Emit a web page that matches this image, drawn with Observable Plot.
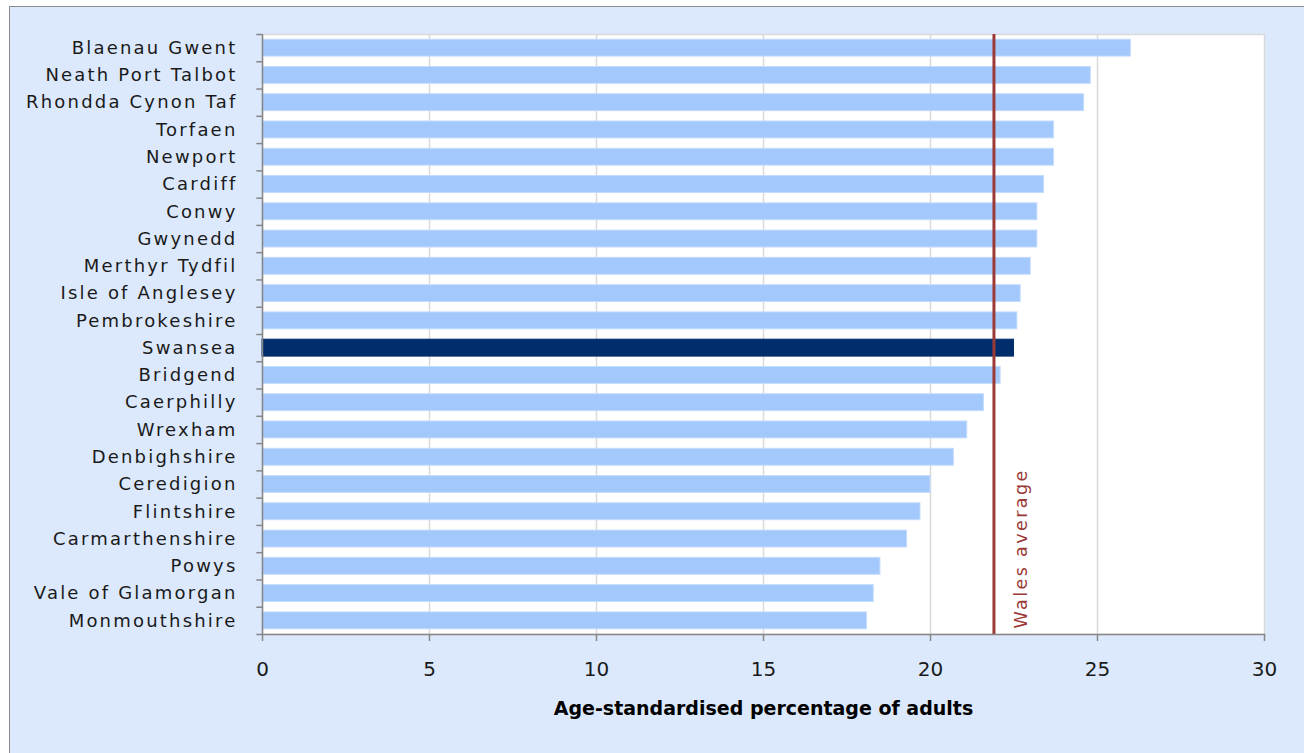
<!DOCTYPE html>
<html><head><meta charset="utf-8">
<script src="https://cdn.jsdelivr.net/npm/d3@7"></script>
<script src="https://cdn.jsdelivr.net/npm/@observablehq/plot@0.6"></script>
<style>
html,body{margin:0;padding:0;background:#fff;width:1304px;height:753px;overflow:hidden;}
#frame{position:absolute;left:9px;top:6px;width:1400px;height:800px;background:#dce9fc;border:1px solid #8c8c8c;}
#chart{position:absolute;left:0;top:0;}
</style></head>
<body><div id="frame"></div><div id="chart"></div>
<script>
const areas = ["Blaenau Gwent","Neath Port Talbot","Rhondda Cynon Taf","Torfaen","Newport","Cardiff","Conwy","Gwynedd","Merthyr Tydfil","Isle of Anglesey","Pembrokeshire","Swansea","Bridgend","Caerphilly","Wrexham","Denbighshire","Ceredigion","Flintshire","Carmarthenshire","Powys","Vale of Glamorgan","Monmouthshire"];
const values = [26.0,24.8,24.6,23.7,23.7,23.4,23.2,23.2,23.0,22.7,22.6,22.5,22.1,21.6,21.1,20.7,20.0,19.7,19.3,18.5,18.3,18.1];
const highlight = "Swansea";
const walesAverage = 21.9;
const xTicks = [0,5,10,15,20,25,30];
const gridTicks = [5,10,15,20,25];
const xTitle = "Age-standardised percentage of adults";
const avgLabel = "Wales average";

const data = areas.map((a,i)=>({area:a, value:values[i]}));
const step = 600/areas.length;
const font = "DejaVu Sans, Verdana, sans-serif";

const chart = Plot.plot({
  width:1304, height:753,
  marginLeft:262, marginRight:40, marginTop:34, marginBottom:119,
  style:{background:"transparent", fontFamily:font, fontSize:"16px", color:"#1a1a1a", overflow:"visible"},
  x:{domain:[0,30], ticks:xTicks},
  y:{domain:areas, paddingInner:0.38, paddingOuter:0.19, round:false},
  marks:[
    Plot.frame({fill:"white", stroke:"#d9d9d9", strokeWidth:1.5}),
    Plot.ruleX(gridTicks, {stroke:"#d9d9d9", strokeWidth:1.5}),
    Plot.barX(data, {y:"area", x:"value", fill:d=>d.area===highlight?"#002d6b":"#a3c8fb", stroke:d=>d.area===highlight?"#002d6b":"#c4dcfd", strokeWidth:1}),
    Plot.ruleX([walesAverage], {stroke:"#9b3a37", strokeWidth:3}),
    Plot.text([walesAverage], {x:d=>d, frameAnchor:"bottom", rotate:-90, textAnchor:"start", lineAnchor:"middle", dx:27, dy:-6, text:()=>avgLabel, fill:"#9b3a37", fontSize:17.5, fontFamily:font}),
    Plot.ruleX([0], {stroke:"#868686", strokeWidth:1.5}),
    Plot.frame({anchor:"bottom", stroke:"#868686", strokeWidth:1.5}),
    Plot.ruleY(areas, {y:d=>d, x1:-0.17, x2:0, dy:-step/2, stroke:"#868686", strokeWidth:1.5}),
    Plot.ruleY([areas[areas.length-1]], {y:d=>d, x1:-0.17, x2:0, dy:step/2, stroke:"#868686", strokeWidth:1.5}),
    Plot.axisY({tickSize:0, tickPadding:25, fontSize:18, fill:"#1a1a1a", label:null}),
    Plot.axisX({ticks:xTicks, tickSize:7, tickPadding:20, fontSize:20, stroke:"#868686", strokeWidth:1.5, fill:"#1a1a1a", label:null}),
    Plot.text([xTitle], {frameAnchor:"bottom", dy:80, text:d=>d, fontWeight:"bold", fontSize:19, fill:"#000", fontFamily:font})
  ]
});
const sel = d3.select(chart);
sel.selectAll('g[aria-label="y-axis tick label"] text').attr("letter-spacing", "2.2px");
sel.selectAll("text").filter(function(){return this.textContent===avgLabel;}).attr("letter-spacing", "2.4px");
document.getElementById("chart").appendChild(chart);
</script>
</body></html>
